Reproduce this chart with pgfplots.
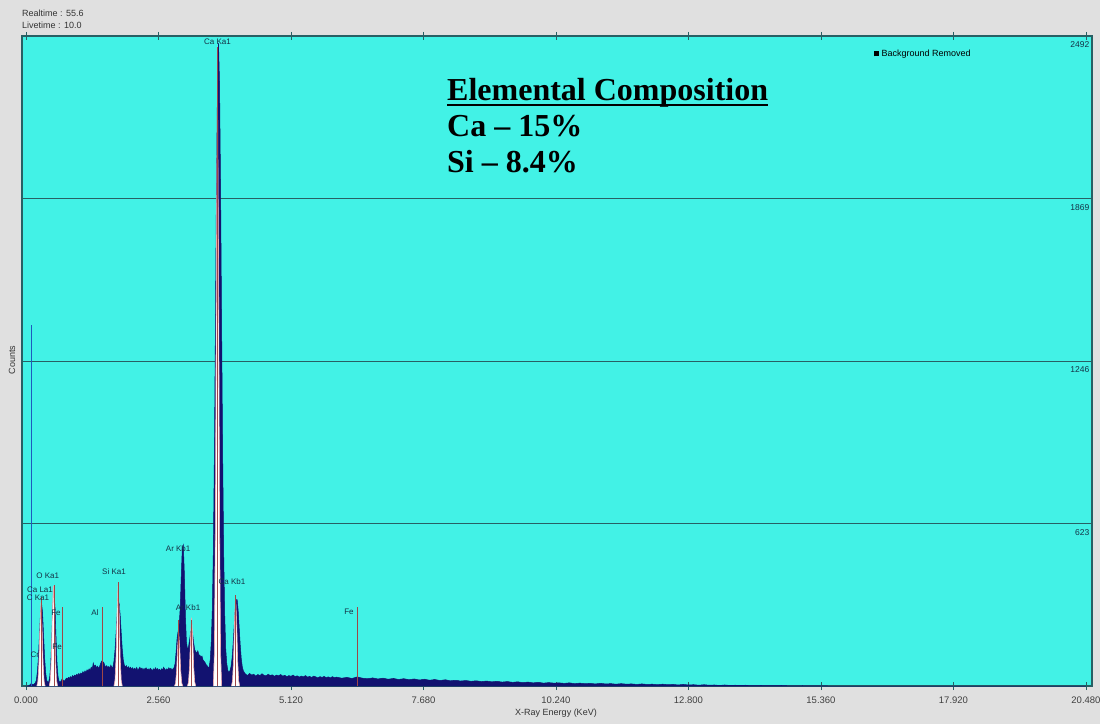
\documentclass[border=0pt]{standalone}
\usepackage{pgfplots}
\pgfplotsset{compat=1.18}
\usepackage{fontspec}
\setmainfont{Liberation Sans}
\newfontfamily\tnr{Liberation Serif}
\definecolor{bggray}{RGB}{224,224,224}
\definecolor{cyanbg}{RGB}{66,242,230}
\definecolor{navyc}{RGB}{18,18,112}
\definecolor{gridc}{RGB}{40,96,100}
\definecolor{markc}{RGB}{160,70,70}
\definecolor{pinkc}{RGB}{235,170,175}
\definecolor{lblc}{RGB}{20,50,70}
\definecolor{bluel}{RGB}{30,90,190}

\pgfplotstableread{
x y
0.00 0
0.04 0
0.06 2
0.08 5
0.10 9
0.12 7
0.14 6
0.16 8
0.18 12
0.20 22
0.22 55
0.24 110
0.26 195
0.28 280
0.30 318
0.32 282
0.34 196
0.36 108
0.38 52
0.40 22
0.42 15
0.44 16
0.46 38
0.48 90
0.50 190
0.52 305
0.54 357
0.56 305
0.58 190
0.60 88
0.62 35
0.64 18
0.66 14
0.68 20
0.70 28
0.72 22
0.74 18
0.76 24
0.78 30
0.80 27
0.82 33
0.84 30
0.86 36
0.88 32
0.90 40
0.92 35
0.94 42
0.96 38
0.98 45
1.00 41
1.02 48
1.04 43
1.06 50
1.08 46
1.10 55
1.12 49
1.14 58
1.16 52
1.18 62
1.20 57
1.22 66
1.24 60
1.26 72
1.28 65
1.30 88
1.32 75
1.34 80
1.36 70
1.38 76
1.40 68
1.42 74
1.44 85
1.46 95
1.48 88
1.50 92
1.52 80
1.54 72
1.56 78
1.58 70
1.60 75
1.62 68
1.64 80
1.66 70
1.68 73
1.70 95
1.72 138
1.74 201
1.76 270
1.78 316
1.80 318
1.82 272
1.84 205
1.86 142
1.88 100
1.90 80
1.92 72
1.94 78
1.96 68
1.98 74
2.00 66
2.02 72
2.04 64
2.06 70
2.08 62
2.10 68
2.12 63
2.14 71
2.16 60
2.18 66
2.20 72
2.22 64
2.24 69
2.26 61
2.28 67
2.30 63
2.32 70
2.34 62
2.36 66
2.38 60
2.40 68
2.42 64
2.44 58
2.46 66
2.48 61
2.50 70
2.52 63
2.54 67
2.56 60
2.58 64
2.60 58
2.62 66
2.64 62
2.66 72
2.68 65
2.70 60
2.72 66
2.74 62
2.76 70
2.78 64
2.80 68
2.82 60
2.84 66
2.86 70
2.88 85
2.90 130
2.92 185
2.94 210
2.96 235
2.98 300
3.00 420
3.02 530
3.04 541
3.06 430
3.08 270
3.10 170
3.12 140
3.14 150
3.16 175
3.18 205
3.20 218
3.22 200
3.24 165
3.26 140
3.28 132
3.30 125
3.32 135
3.34 120
3.36 118
3.38 110
3.40 115
3.42 100
3.44 95
3.46 90
3.48 82
3.50 78
3.52 70
3.54 74
3.56 100
3.58 170
3.60 294
3.62 522
3.64 895
3.66 1383
3.68 1909
3.70 2310
3.72 2465
3.74 2310
3.76 1905
3.78 1380
3.80 885
3.82 505
3.84 270
3.86 140
3.88 85
3.90 60
3.92 52
3.94 58
3.96 73
3.98 104
4.00 156
4.02 222
4.04 289
4.06 331
4.08 331
4.10 289
4.12 222
4.14 156
4.16 104
4.18 73
4.20 58
4.22 51
4.24 46
4.28 40
4.32 48
4.36 42
4.40 45
4.44 38
4.48 44
4.52 40
4.56 47
4.60 41
4.64 39
4.68 45
4.72 40
4.76 43
4.80 37
4.84 42
4.88 39
4.92 44
4.96 38
5.00 41
5.04 36
5.08 40
5.12 37
5.16 42
5.20 36
5.24 39
5.28 34
5.32 38
5.36 35
5.40 40
5.44 34
5.48 37
5.52 33
5.56 38
5.60 35
5.64 31
5.68 36
5.72 33
5.76 37
5.80 32
5.84 35
5.88 31
5.92 36
5.96 32
6.00 34
6.1 30
6.2 33
6.3 29
6.4 35
6.5 30
6.6 28
6.7 31
6.8 27
6.9 30
7.0 26
7.1 29
7.2 25
7.3 28
7.4 24
7.5 27
7.6 23
7.7 26
7.8 22
7.9 25
8.0 21
8.1 24
8.2 20
8.3 22
8.4 19
8.5 21
8.6 18
8.7 20
8.8 17
8.9 19
9.0 16
9.1 18
9.2 15
9.3 17
9.4 14
9.5 16
9.6 13
9.7 15
9.8 12
9.9 14
10.0 11
10.1 13
10.2 11
10.3 12
10.4 10
10.5 12
10.6 9
10.7 11
10.8 9
10.9 10
11.0 8
11.1 10
11.2 8
11.3 9
11.4 7
11.5 9
11.6 7
11.7 8
11.8 6
11.9 8
12.0 6
12.1 7
12.2 5
12.3 7
12.4 5
12.5 6
12.6 4
12.7 6
12.8 4
12.9 5
13.0 3
13.1 5
13.2 3
13.3 4
13.4 2
13.5 4
13.6 2
13.7 3
13.8 2
13.9 3
14.0 1
14.2 2
14.4 1
14.6 2
14.8 0
15.0 1
15.5 0
20.48 0
}\spectrum

\begin{document}
\begin{tikzpicture}
\fill[bggray] (0pt,0pt) rectangle (1100pt,724pt);
\path[use as bounding box] (0pt,0pt) rectangle (1100pt,724pt);
\begin{axis}[
  at={(22pt,38pt)}, anchor=south west,
  scale only axis, width=1070pt, height=650pt,
  xmin=-0.077, xmax=20.596, ymin=0, ymax=2492,
  axis background/.style={fill=cyanbg},
  axis line style={gridc, line width=1.2pt},
  xtick={0,2.56,5.12,7.68,10.24,12.8,15.36,17.92,20.48},
  xticklabels={0.000,2.560,5.120,7.680,10.240,12.800,15.360,17.920,20.480},
  xticklabel style={font=\fontsize{9.5}{10}\selectfont, text=black!75, yshift=-3pt},
  tick align=center, major tick length=8pt,
  x tick style={gridc, line width=0.8pt},
  ytick={623,1246,1869}, yticklabels={},
  y tick style={draw=none},
  ymajorgrids, major grid style={gridc, line width=1pt},
  /pgf/number format/assume math mode=true,
  clip=false,
]
% spectrum
\addplot[draw=navyc, fill=navyc, line width=0.5pt] table[x=x,y=y] {\spectrum} \closedcycle;
% fitted peak overlays
\addplot[draw=pinkc, fill=white, line width=0.6pt] coordinates {(0.21,0)(0.23,18)(0.25,89)(0.27,232)(0.29,320)(0.31,232)(0.33,89)(0.35,18)(0.37,0)};
\addplot[draw=pinkc, fill=white, line width=0.6pt] coordinates {(0.45,0)(0.47,22)(0.49,107)(0.51,280)(0.53,385)(0.55,280)(0.57,107)(0.59,22)(0.61,0)};
\addplot[draw=pinkc, fill=white, line width=0.6pt] coordinates {(1.70,0)(1.72,22)(1.74,110)(1.76,287)(1.78,395)(1.80,287)(1.82,110)(1.84,22)(1.86,0)};
\addplot[draw=pinkc, fill=white, line width=0.6pt] coordinates {(2.87,0)(2.89,11)(2.91,57)(2.93,149)(2.95,205)(2.97,149)(2.99,57)(3.01,11)(3.03,0)};
\addplot[draw=pinkc, fill=white, line width=0.6pt] coordinates {(3.12,0)(3.14,15)(3.16,73)(3.18,190)(3.20,262)(3.22,190)(3.24,73)(3.26,15)(3.28,0)};
\addplot[draw=pinkc, fill=white, line width=0.6pt] coordinates {(3.62,0)(3.64,129)(3.66,639)(3.68,1670)(3.70,2300)(3.72,1670)(3.74,639)(3.76,129)(3.78,0)};
\addplot[draw=pinkc, fill=white, line width=0.6pt] coordinates {(3.97,0)(3.99,19)(4.01,96)(4.03,250)(4.05,345)(4.07,250)(4.09,96)(4.11,19)(4.13,0)};
% strobe line
\addplot[bluel, line width=1pt] coordinates {(0.10,0)(0.10,1384)};
% element marker lines
\addplot[markc, line width=0.8pt] coordinates {(0.29,0)(0.29,340)};
\addplot[markc, line width=0.8pt] coordinates {(0.55,0)(0.55,387)};
\addplot[markc, line width=0.8pt] coordinates {(0.70,0)(0.70,303)};
\addplot[markc, line width=0.8pt] coordinates {(1.47,0)(1.47,303)};
\addplot[markc, line width=0.8pt] coordinates {(1.78,0)(1.78,400)};
\addplot[markc, line width=0.8pt] coordinates {(2.94,0)(2.94,253)};
\addplot[markc, line width=0.8pt] coordinates {(3.20,0)(3.20,253)};
\addplot[markc, line width=0.8pt] coordinates {(3.70,0)(3.70,2450)};
\addplot[markc, line width=0.8pt] coordinates {(4.05,0)(4.05,350)};
\addplot[markc, line width=0.8pt] coordinates {(6.40,0)(6.40,303)};
% labels
\begin{scope}[every node/.style={font=\fontsize{8}{9}\selectfont, text=lblc, inner sep=0pt}]
\node[anchor=south] at (axis cs:3.70,2458) {Ca Ka1};
\node at (axis cs:2.94,525) {Ar Kb1};
\node at (axis cs:3.13,299) {Ar Kb1};
\node at (axis cs:3.98,399) {Ca Kb1};
\node at (axis cs:1.70,437) {Si Ka1};
\node at (axis cs:1.33,280) {Al};
\node at (axis cs:0.42,422) {O Ka1};
\node at (axis cs:0.27,368) {Ca La1};
\node at (axis cs:0.23,337) {C Ka1};
\node at (axis cs:0.58,280) {Fe};
\node at (axis cs:6.24,284) {Fe};
\node at (axis cs:0.17,119) {Cr};
\node at (axis cs:0.60,150) {Fe};
\end{scope}
\begin{scope}[every node/.style={font=\fontsize{8.5}{9}\selectfont, text=lblc, inner sep=0pt, anchor=north east}]
\node at (axis cs:20.55,2470) {2492};
\node at (axis cs:20.55,1847) {1869};
\node at (axis cs:20.55,1224) {1246};
\node at (axis cs:20.55,601) {623};
\end{scope}
\end{axis}
% header texts
\begin{scope}[every node/.style={font=\fontsize{9}{10}\selectfont, text=black!80, inner sep=0pt}]
\node[anchor=base west] at (22pt,707pt) {Realtime : 55.6};
\node[anchor=base west] at (22pt,695pt) {Livetime : 10.0};
\node[rotate=90] at (12pt,364pt) {Counts};
\node at (556pt,11pt) {X-Ray Energy (KeV)};
\node[anchor=west, text=black] at (874pt,670pt) {\rule{5pt}{5pt}\ Background Removed};
\end{scope}
\begin{scope}[every node/.style={font=\tnr\bfseries\fontsize{32}{36}\selectfont, text=black, inner sep=0pt, anchor=base west}]
\node (t1) at (447pt,623pt) {Elemental Composition};
\node at (447pt,587pt) {Ca – 15\%};
\node at (447pt,551pt) {Si – 8.4\%};
\end{scope}
\draw[line width=1.8pt] ([yshift=-4pt]t1.base west) -- ([yshift=-4pt]t1.base east);
\end{tikzpicture}
\end{document}
